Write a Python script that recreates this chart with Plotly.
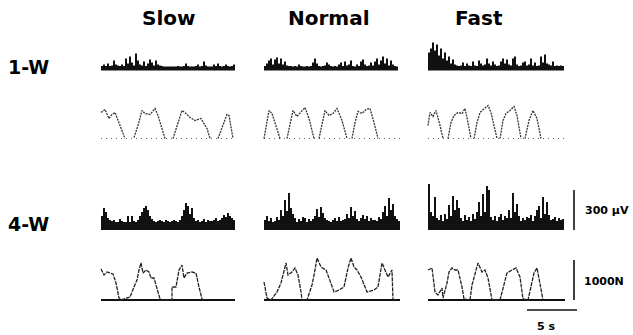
import plotly.graph_objects as go

# ---------------- data ----------------
conditions = ["Slow", "Normal", "Fast"]
groups = ["1-W", "4-W"]

EMG_DT = 0.2  # s per EMG sample (rectified EMG envelope samples)

# EMG amplitude (µV)
emg_1w_slow = [34,45,34,53,34, 38,75,45,38,34, 45,34,90,53,105, 60,38,128,75,45, 38,68,34,53,83,
               60,38,75,45,38, 34,30,30,30,30, 30,30,30,34,30, 30,34,53,34,30, 30,30,34,45,30,
               34,68,38,30,30, 30,45,34,53,34, 30,34,45,34,30, 34,45]
emg_1w_normal = [34,53,75,90,45, 83,98,53,90,45, 68,38,34,34,30, 34,30,45,34,30, 30,34,30,34,60,
                 90,53,34,30,34, 38,60,45,34,30, 34,30,45,60,34, 68,38,45,75,34, 30,45,34,68,83,
                 45,34,38,60,38, 68,90,45,75,105, 53,90,38,75,45, 34,30]
emg_1w_fast = [135,165,210,150,195, 113,165,90,135,75, 105,53,83,45,38, 34,38,60,34,53, 38,34,68,38,34,
               75,53,38,45,90, 53,38,68,45,34, 38,68,90,53,83, 45,38,90,105,45, 34,38,60,68,38,
               45,90,38,60,34, 38,105,60,120,53, 45,38,68,34,38, 34,38,34]
emg_4w_slow = [105,165,135,90,75, 68,75,60,60,83, 68,60,60,105,60, 105,68,60,75,105, 135,165,180,150,105,
               83,68,60,68,75, 68,60,75,68,60, 68,75,68,60,75, 105,150,203,180,120, 165,90,68,75,60,
               68,83,60,75,68, 68,75,90,68,75, 90,113,98,128,105, 90,75]
emg_4w_normal = [75,105,68,90,60, 68,98,75,150,105, 225,143,278,165,120, 90,60,83,68,98, 90,60,83,68,83,
                 105,158,98,173,128, 90,75,68,60,75, 90,68,98,68,75, 83,120,90,173,105, 143,83,68,90,113,
                 83,105,68,90,75, 75,68,98,83,135, 180,105,240,150,195, 105,83,68]
emg_4w_fast = [345,135,105,248,90, 75,113,68,120,83, 188,105,255,150,225, 165,90,68,113,75, 98,68,120,83,135,
               210,105,270,135,330, 300,98,75,105,68, 98,120,75,105,90, 150,90,278,135,195, 105,68,90,75,98,
               90,113,68,105,150, 180,90,248,120,210, 113,75,83,98,68, 90,75,83]

# Force (N) vs time (s); None separates individual pushes
force_1w_slow_t = [0,0.4,0.8,1.1,1.4,1.9,2.4, None, 3.3,3.7,4.1,4.4,4.9,5.4,5.7,6.1,6.4, None,
                   7.2,7.6,8.1,8.5,8.9,9.4,10.0,10.6,10.9, None, 11.7,12.1,12.6,12.8,13.2]
force_1w_slow_f = [650,725,500,600,650,325,0, None, 25,325,700,625,600,750,575,250,0, None,
                   0,325,700,625,525,450,500,250,0, None, 0,250,600,575,0]
force_1w_normal_t = [0,0.2,0.5,0.8,1.2,1.6, None, 2.3,2.6,2.9,3.3,3.7,4.1,4.5,5.0, None,
                     5.5,5.8,6.1,6.5,6.9,7.3,7.8,8.3, None, 8.8,9.1,9.4,9.8,10.2,10.6,11.0,11.4]
force_1w_normal_f = [0,325,700,625,325,0, None, 0,400,700,550,650,775,500,0, None,
                     0,400,700,575,625,750,450,0, None, 0,400,675,625,725,750,400,0]
force_1w_fast_t = [0,0.2,0.5,0.8,1.2,1.5, None, 2.0,2.3,2.6,3.0,3.4,3.7,4.0,4.3, None,
                   4.6,4.9,5.2,5.6,6.0,6.3,6.6,6.9, None, 7.2,7.5,7.8,8.2,8.6,8.9,9.3, None,
                   9.7,10.1,10.5,10.9,11.3]
force_1w_fast_f = [325,650,550,700,325,0, None, 0,400,575,650,625,750,400,0, None,
                   0,400,650,750,825,650,325,0, None, 0,450,625,700,800,575,0, None,
                   0,450,700,500,0]
force_4w_slow_t = [0,0.3,0.6,1.0,1.2,1.5,1.8,2.0, 2.9,3.3,3.6,3.8,4.0,4.2,4.5,4.8,5.0,5.3,5.6,5.9,6.2,
                   7.1,7.1,7.5,7.8,8.1,8.3,8.6,9.1,9.5,9.8,10.1,10.4]
force_4w_slow_f = [775,625,700,675,650,425,50,0, 75,325,500,750,925,675,750,700,550,550,250,25,0,
                   0,325,325,750,875,550,675,700,675,325,25,0]
force_4w_normal_t = [0,0.3,0.7,1.3,1.7,2.0,2.2,2.4,2.8,3.1,3.4,3.7,3.8,
                     4.3,4.6,4.8,5.1,5.3,5.7,6.2,6.5,7.0,7.5,8.0,8.4,8.7,9.0,9.3,9.7,10.0,10.3,
                     11.0,11.4,11.8,12.1,12.4,12.8,12.9]
force_4w_normal_f = [450,50,0,200,425,750,925,625,700,800,625,200,0,
                     0,200,375,750,1050,825,750,550,200,250,325,800,1050,825,750,575,375,200,
                     250,325,925,750,575,750,0]
force_4w_fast_t = [0,0.4,0.7,1.0,1.4,1.5,1.9,2.1,2.4,2.7,3.0,3.4,3.6,4.2,4.4,4.7,5.0,5.4,5.7,6.0,
                   6.4,7.2,7.5,7.9,8.4,8.8,9.2,9.5,10.0,10.3,10.6,10.9,11.2,11.5]
force_4w_fast_f = [750,800,200,125,300,50,425,700,800,750,750,325,25,0,375,675,925,700,750,550,
                   0,0,325,675,750,800,575,25,0,325,675,800,375,0]

record_duration = [13.4, 13.6, 13.7]   # s, per condition

scale_emg_uv = 300
scale_force_n = 1000
scale_time_s = 5

# ---------------- layout geometry (pixels) ----------------
W, H = 633, 335
PX_PER_S = 10.0
UV_PER_PX = 7.5
N_PER_PX = 25.0
col_x0 = [101, 264, 428]
PANEL_W = 160

# rows: (baseline px, top px, bottom px, units per px)
rows = {
    ("1-W", "emg"): (70.5, 30, 73, UV_PER_PX),
    ("1-W", "force"): (138.5, 100, 142, N_PER_PX),
    ("4-W", "emg"): (230, 175, 233, UV_PER_PX),
    ("4-W", "force"): (300, 250, 316, N_PER_PX),
}

emg = {("1-W", 0): emg_1w_slow, ("1-W", 1): emg_1w_normal, ("1-W", 2): emg_1w_fast,
       ("4-W", 0): emg_4w_slow, ("4-W", 1): emg_4w_normal, ("4-W", 2): emg_4w_fast}
force = {("1-W", 0): (force_1w_slow_t, force_1w_slow_f),
         ("1-W", 1): (force_1w_normal_t, force_1w_normal_f),
         ("1-W", 2): (force_1w_fast_t, force_1w_fast_f),
         ("4-W", 0): (force_4w_slow_t, force_4w_slow_f),
         ("4-W", 1): (force_4w_normal_t, force_4w_normal_f),
         ("4-W", 2): (force_4w_fast_t, force_4w_fast_f)}

fig = go.Figure()
layout_axes = {}
axis_n = 0
axis_of = {}


def make_axes(g, kind, c):
    global axis_n
    axis_n += 1
    n = axis_n
    yb, top, bot, unit = rows[(g, kind)]
    x0 = col_x0[c]
    xd = [(x0 - 2) / W, (x0 - 2 + PANEL_W) / W]
    xr = [-2 / PX_PER_S, (PANEL_W - 2) / PX_PER_S]
    yd = [1 - bot / H, 1 - top / H]
    yr = [(yb - bot) * unit, (yb - top) * unit]
    sx = "" if n == 1 else str(n)
    layout_axes["xaxis" + sx] = dict(domain=xd, range=xr, visible=False, fixedrange=True,
                                     anchor="y" + sx)
    layout_axes["yaxis" + sx] = dict(domain=yd, range=yr, visible=False, fixedrange=True,
                                     anchor="x" + sx)
    axis_of[(g, kind, c)] = ("x" + sx, "y" + sx)
    return "x" + sx, "y" + sx


for g in groups:
    for c in range(3):
        # EMG
        xa, ya = make_axes(g, "emg", c)
        vals = emg[(g, c)]
        fig.add_trace(go.Bar(x=[i * EMG_DT + EMG_DT / 2 for i in range(len(vals))], y=vals,
                             width=EMG_DT, marker=dict(color="#111111", line=dict(width=0)),
                             xaxis=xa, yaxis=ya, showlegend=False, hoverinfo="skip"))
        # Force
        xa, ya = make_axes(g, "force", c)
        t, f = force[(g, c)]
        dur = record_duration[c]
        if g == "1-W":
            fig.add_trace(go.Scatter(x=[0, dur], y=[0, 0], mode="lines",
                                     line=dict(color="#666666", width=1.2, dash="1px,4px"),
                                     xaxis=xa, yaxis=ya, showlegend=False, hoverinfo="skip"))
            fig.add_trace(go.Scatter(x=t, y=f, mode="lines", connectgaps=False,
                                     line=dict(color="#333333", width=1.3, dash="2px,1px"),
                                     xaxis=xa, yaxis=ya, showlegend=False, hoverinfo="skip"))
        else:
            fig.add_trace(go.Scatter(x=[0, dur], y=[0, 0], mode="lines",
                                     line=dict(color="#111111", width=1.8),
                                     xaxis=xa, yaxis=ya, showlegend=False, hoverinfo="skip"))
            fig.add_trace(go.Scatter(x=t, y=f, mode="lines",
                                     line=dict(color="#222222", width=1.3, dash="4px,1px"),
                                     xaxis=xa, yaxis=ya, showlegend=False, hoverinfo="skip"))

# scale bars (drawn on the Fast 4-W axes)
bar_t = record_duration[2] + 0.9
xa, ya = axis_of[("4-W", "emg", 2)]
fig.add_trace(go.Scatter(x=[bar_t, bar_t], y=[0, scale_emg_uv], mode="lines",
                         line=dict(color="#111111", width=1.6), xaxis=xa, yaxis=ya,
                         showlegend=False, hoverinfo="skip"))
xa, ya = axis_of[("4-W", "force", 2)]
fig.add_trace(go.Scatter(x=[bar_t, bar_t], y=[0, scale_force_n], mode="lines",
                         line=dict(color="#111111", width=1.6), xaxis=xa, yaxis=ya,
                         showlegend=False, hoverinfo="skip"))
fig.add_trace(go.Scatter(x=[bar_t + 0.3 - scale_time_s, bar_t + 0.3], y=[-250, -250], mode="lines",
                         line=dict(color="#111111", width=1.6), xaxis=xa, yaxis=ya,
                         showlegend=False, hoverinfo="skip"))

FONT = "DejaVu Sans"
ann = []


def px_ann(text, x, y, size, xanchor="center"):
    ann.append(dict(text="<b>" + text + "</b>", x=x / W, y=1 - y / H, xref="paper", yref="paper",
                    xanchor=xanchor, yanchor="middle", showarrow=False,
                    font=dict(family=FONT, size=size, color="#000000")))


for name, cx in zip(conditions, [168, 329, 479]):
    px_ann(name, cx, 18, 20)
for name, cy in zip(groups, [67, 224]):
    px_ann(name, 6, cy, 19, xanchor="left")
px_ann("300 μV", 583, 211, 11, xanchor="left")
px_ann("1000N", 582, 281, 11, xanchor="left")
px_ann("5 s", 546, 326, 11)

fig.update_layout(width=W, height=H, margin=dict(l=0, r=0, t=0, b=0),
                  paper_bgcolor="white", plot_bgcolor="white", showlegend=False,
                  barmode="overlay", annotations=ann, **layout_axes)

fig.write_html("out.html", config={"displayModeBar": False},
               post_script="document.body.style.margin='0';document.body.style.overflow='hidden';")
